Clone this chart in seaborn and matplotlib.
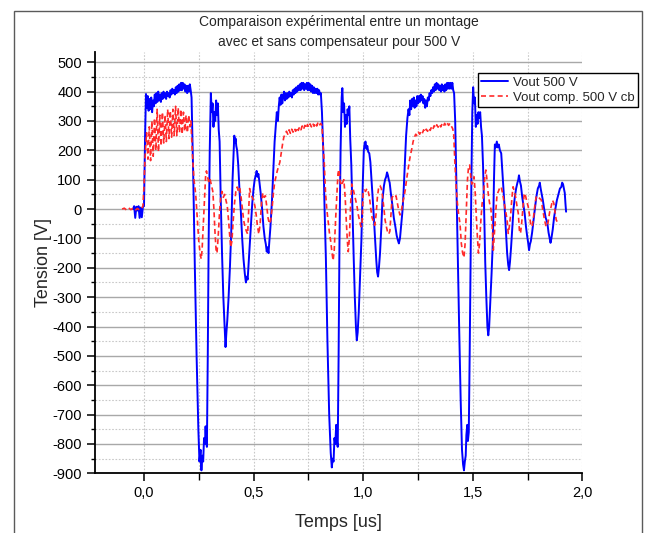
import matplotlib
matplotlib.use("Agg")
import matplotlib.pyplot as plt
from matplotlib.ticker import MultipleLocator, FuncFormatter
from matplotlib.patches import Rectangle
import seaborn as sns
import pandas as pd

# ---------------- data ----------------
title_text = "Comparaison expérimental entre un montage\navec et sans compensateur pour 500 V"
x_label = "Temps [us]"
y_label = "Tension [V]"
label_vout = "Vout 500 V"
label_comp = "Vout comp. 500 V cb"

t_vout = [-0.05, -0.045, -0.04, -0.035, -0.03, -0.025, -0.02, -0.015, -0.01, -0.005, 0.0,
          0.005, 0.009, 0.013, 0.017, 0.021, 0.025, 0.029, 0.033, 0.037, 0.041, 0.045, 0.049,
          0.053, 0.057, 0.061, 0.065, 0.069, 0.073, 0.077, 0.081, 0.085, 0.089, 0.093, 0.097,
          0.101, 0.105, 0.109, 0.113, 0.117, 0.121, 0.125, 0.129, 0.133, 0.137, 0.141, 0.145,
          0.149, 0.153, 0.157, 0.161, 0.165, 0.169, 0.173, 0.177, 0.181, 0.185, 0.189, 0.193,
          0.197, 0.201, 0.205, 0.209, 0.213,
          0.217, 0.225, 0.232, 0.24, 0.248, 0.253, 0.258, 0.262, 0.266, 0.27, 0.274, 0.278,
          0.281, 0.284, 0.287, 0.291, 0.295, 0.3, 0.305, 0.309, 0.313, 0.317, 0.321, 0.325,
          0.329, 0.333, 0.337, 0.341, 0.345, 0.35, 0.356, 0.362, 0.368, 0.372, 0.376, 0.38,
          0.386, 0.392, 0.398, 0.404, 0.409, 0.412, 0.415, 0.418, 0.421, 0.425, 0.43, 0.436,
          0.442, 0.448, 0.454, 0.46, 0.465, 0.469, 0.473, 0.477, 0.482, 0.488, 0.494, 0.5,
          0.505, 0.51, 0.514, 0.518, 0.522, 0.527, 0.533, 0.539, 0.545, 0.551, 0.556, 0.56,
          0.564, 0.568, 0.572, 0.577, 0.584, 0.59, 0.596, 0.601, 0.606, 0.611, 0.615, 0.619,
          0.623, 0.627, 0.631, 0.635, 0.639, 0.643, 0.647, 0.651, 0.655, 0.659, 0.663, 0.667,
          0.671, 0.675, 0.679, 0.683, 0.687, 0.691, 0.695, 0.699, 0.703, 0.707, 0.711, 0.715,
          0.719, 0.723, 0.727, 0.731, 0.735, 0.739, 0.743, 0.747, 0.751, 0.755, 0.759, 0.763,
          0.767, 0.771, 0.775, 0.779, 0.783, 0.787, 0.791, 0.795, 0.799, 0.803, 0.807,
          0.812, 0.818, 0.824, 0.83, 0.837, 0.845, 0.852, 0.857, 0.861, 0.865, 0.869, 0.873,
          0.877, 0.88, 0.884, 0.888, 0.892, 0.897, 0.902, 0.905, 0.909, 0.913, 0.917, 0.921,
          0.925, 0.929, 0.933, 0.937, 0.941, 0.946, 0.951, 0.957, 0.962, 0.967, 0.971, 0.975,
          0.98, 0.986, 0.992, 0.998, 1.003, 1.007, 1.011, 1.015, 1.019, 1.023, 1.028, 1.033,
          1.04, 1.047, 1.054, 1.06, 1.064, 1.068, 1.072, 1.077, 1.083, 1.088, 1.095, 1.1,
          1.105, 1.109, 1.113, 1.117, 1.121, 1.127, 1.134, 1.14, 1.147, 1.153, 1.158, 1.163,
          1.168, 1.173, 1.179, 1.184, 1.19, 1.196, 1.202, 1.207, 1.211, 1.215, 1.219, 1.223,
          1.227, 1.231, 1.235, 1.239, 1.243, 1.247, 1.251, 1.255, 1.259, 1.263, 1.267, 1.271,
          1.275, 1.279, 1.283, 1.287, 1.291, 1.295, 1.299, 1.303, 1.307, 1.311, 1.315, 1.319,
          1.323, 1.327, 1.331, 1.335, 1.339, 1.343, 1.347, 1.351, 1.355, 1.359, 1.363, 1.367,
          1.371, 1.375, 1.379, 1.383, 1.387, 1.391, 1.395, 1.399, 1.403, 1.407, 1.411, 1.415,
          1.42, 1.426, 1.432, 1.438, 1.445, 1.451, 1.456, 1.46, 1.464, 1.468, 1.471, 1.475,
          1.478, 1.482, 1.486, 1.49, 1.494, 1.498, 1.502, 1.506, 1.51, 1.514, 1.518, 1.522,
          1.526, 1.53, 1.534, 1.538, 1.542, 1.547, 1.552, 1.557, 1.562, 1.567, 1.571, 1.575,
          1.58, 1.586, 1.592, 1.597, 1.601, 1.605, 1.61, 1.614, 1.619, 1.624, 1.63, 1.636,
          1.641, 1.646, 1.652, 1.657, 1.662, 1.666, 1.67, 1.675, 1.68, 1.686, 1.692, 1.698,
          1.704, 1.708, 1.711, 1.715, 1.72, 1.726, 1.732, 1.737, 1.743, 1.748, 1.753, 1.757,
          1.761, 1.765, 1.771, 1.777, 1.783, 1.79, 1.797, 1.803, 1.806, 1.81, 1.815, 1.82,
          1.826, 1.833, 1.84, 1.846, 1.851, 1.855, 1.859, 1.865, 1.871, 1.877, 1.884, 1.891,
          1.898, 1.904, 1.908, 1.912, 1.916, 1.92, 1.923, 1.926]
v_vout = [0, 10, -30, 8, -5, 10, -30, 5, -28, 8, 10,
          250, 392, 345, 385, 335, 375, 340, 380, 330, 370, 350, 390,
          360, 395, 365, 400, 370, 390, 365, 395, 375, 400, 380, 395,
          375, 400, 385, 395, 380, 405, 390, 410, 395, 405, 390, 415,
          395, 420, 400, 425, 405, 430, 405, 430, 410, 425, 400, 420,
          395, 420, 400, 425, 405,
          380, 100, -200, -500, -750, -860, -820, -890, -840, -860, -780, -800,
          -740, -790, -810, -500, -106, 200, 395, 330, 360, 280, 330, 300,
          370, 320, 360, 270, 230, 40, -150, -300, -400, -470, -420, -380,
          -300, -200, -80, 100, 200, 250, 225, 240, 215, 200, 150, 60,
          -10, -100, -170, -220, -250, -230, -240, -190, -130, -50, 20, 70,
          100, 115, 130, 110, 120, 90, 50, 0, -60, -100, -120, -145,
          -130, -150, -110, -60, 30, 130, 230, 280, 330, 300, 350, 380,
          355, 390, 360, 385, 400, 370, 395, 375, 395, 380, 400, 385,
          395, 380, 405, 390, 410, 395, 415, 400, 420, 405, 425, 405,
          430, 410, 430, 405, 425, 410, 430, 405, 430, 405, 425, 400,
          420, 395, 415, 395, 410, 395, 410, 390, 405, 390, 395,
          330, 200, 0, -170, -450, -700, -830, -880, -850, -860, -780, -800,
          -735, -790, -810, -500, -106, 200, 380, 412, 330, 360, 280, 320,
          290, 340, 320, 350, 240, 150, 0, -170, -300, -400, -447, -420,
          -350, -230, -106, 80, 200, 225, 230, 205, 215, 195, 190, 160,
          80, -5, -100, -175, -215, -230, -200, -150, -60, 30, 80, 100,
          110, 125, 115, 100, 90, 50, 10, -30, -60, -90, -105, -117,
          -100, -60, -10, 50, 150, 250, 310, 340, 320, 370, 340, 375,
          350, 380, 345, 370, 350, 385, 360, 385, 365, 390, 370, 385,
          360, 375, 345, 370, 350, 380, 370, 395, 385, 405, 395, 415,
          400, 425, 405, 430, 410, 425, 405, 420, 400, 425, 405, 420,
          400, 425, 405, 430, 410, 430, 410, 430, 410, 430, 405, 395,
          300, 60, -170, -400, -650, -820, -870, -890, -860, -840, -770, -735,
          -790, -760, -500, -200, 100, 330, 415, 360, 380, 280, 320, 290,
          330, 310, 330, 280, 250, 150, 0, -180, -300, -400, -430, -400,
          -320, -220, -106, 100, 220, 210, 230, 210, 220, 200, 190, 120,
          60, 0, -80, -150, -190, -208, -180, -130, -70, 0, 40, 70,
          90, 100, 115, 95, 80, 40, 10, -15, -60, -90, -115, -140,
          -120, -110, -80, -40, -3, 40, 70, 80, 90, 70, 50, 30,
          0, -30, -45, -80, -100, -115, -100, -70, -30, 0, 30, 50,
          70, 75, 90, 85, 70, 55, 20, -9]

t_comp = [-0.1, -0.09, -0.08, -0.07, -0.06, -0.05, -0.04, -0.03, -0.02, -0.01, -0.005,
          0.0, 0.004, 0.008, 0.012, 0.018, 0.024, 0.03, 0.036, 0.042, 0.048, 0.054, 0.06,
          0.066, 0.072, 0.078, 0.084, 0.09, 0.096, 0.102, 0.108, 0.114, 0.12, 0.126, 0.132,
          0.138, 0.144, 0.15, 0.156, 0.162, 0.168, 0.174, 0.18, 0.186, 0.192, 0.198, 0.204,
          0.21, 0.214,
          0.22, 0.228, 0.236, 0.244, 0.25, 0.256, 0.261, 0.265, 0.27, 0.276, 0.281, 0.285,
          0.29, 0.296, 0.302, 0.308, 0.314, 0.319, 0.324, 0.329, 0.333, 0.338, 0.344, 0.35,
          0.356, 0.362, 0.368, 0.374, 0.38, 0.386, 0.391, 0.396, 0.401, 0.407, 0.413, 0.419,
          0.425, 0.431, 0.437, 0.443, 0.449, 0.455, 0.461, 0.467, 0.473, 0.478, 0.482, 0.488,
          0.494, 0.5, 0.506, 0.512, 0.518, 0.524, 0.53, 0.536, 0.542, 0.548, 0.554, 0.56,
          0.566, 0.572, 0.578, 0.584, 0.59, 0.596, 0.602, 0.608, 0.614, 0.62, 0.626, 0.632,
          0.638, 0.644, 0.65, 0.656, 0.662, 0.668, 0.674, 0.68, 0.686, 0.692, 0.698, 0.704,
          0.71, 0.716, 0.722, 0.728, 0.734, 0.74, 0.746, 0.752, 0.758, 0.764, 0.77, 0.776,
          0.782, 0.788, 0.794, 0.8, 0.806, 0.812,
          0.816, 0.822, 0.828, 0.834, 0.84, 0.846, 0.852, 0.858, 0.863, 0.868, 0.874, 0.88,
          0.885, 0.889, 0.894, 0.9, 0.906, 0.912, 0.918, 0.923, 0.928, 0.932, 0.937, 0.943,
          0.948, 0.954, 0.96, 0.966, 0.972, 0.978, 0.984, 0.99, 0.995, 1.0, 1.005, 1.011,
          1.017, 1.023, 1.029, 1.035, 1.041, 1.047, 1.053, 1.059, 1.065, 1.071, 1.077, 1.083,
          1.089, 1.095, 1.1, 1.106, 1.112, 1.117, 1.122, 1.127, 1.132, 1.138, 1.144, 1.15,
          1.156, 1.162, 1.168, 1.174, 1.18, 1.186, 1.192, 1.198, 1.204, 1.21, 1.216, 1.222,
          1.228, 1.234, 1.24, 1.246, 1.252, 1.258, 1.264, 1.27, 1.276, 1.282, 1.288, 1.294,
          1.3, 1.306, 1.312, 1.318, 1.324, 1.33, 1.336, 1.342, 1.348, 1.354, 1.36, 1.366,
          1.372, 1.378, 1.384, 1.39, 1.396, 1.402, 1.408, 1.413,
          1.418, 1.424, 1.43, 1.436, 1.442, 1.448, 1.454, 1.46, 1.465, 1.47, 1.476, 1.481,
          1.486, 1.491, 1.496, 1.501, 1.506, 1.511, 1.516, 1.521, 1.526, 1.531, 1.537, 1.543,
          1.549, 1.555, 1.56, 1.565, 1.571, 1.577, 1.583, 1.589, 1.594, 1.599, 1.605, 1.611,
          1.617, 1.623, 1.63, 1.637, 1.644, 1.651, 1.657, 1.662, 1.667, 1.673, 1.679, 1.684,
          1.69, 1.696, 1.702, 1.708, 1.713, 1.718, 1.723, 1.729, 1.735, 1.741, 1.747, 1.753,
          1.759, 1.765, 1.771, 1.777, 1.783, 1.789, 1.795, 1.801, 1.807, 1.813, 1.819, 1.826,
          1.833, 1.839, 1.845, 1.851, 1.858, 1.864, 1.87, 1.876, 1.881, 1.886]
v_comp = [0, 3, -3, 4, -2, 3, -4, 2, -3, 3, 10,
          80, 160, 220, 260, 170, 280, 165, 300, 180, 310, 200, 340,
          195, 320, 215, 330, 225, 320, 230, 340, 240, 335, 245, 340,
          250, 350, 250, 345, 260, 340, 255, 330, 265, 320, 260, 320,
          280, 300,
          200, 100, 50, -40, -110, -150, -170, -140, -60, 40, 110, 130,
          110, 90, 100, 80, 60, 0, -80, -140, -150, -100, -20, 40,
          60, 40, 50, 30, 10, -40, -90, -130, -110, -40, 20, 60,
          75, 60, 70, 40, 0, -40, -60, -75, -85, 0, 70, 50,
          40, 30, 10, -20, -60, -85, -50, 20, 55, 40, 45, 10,
          -30, -50, -40, 0, 50, 90, 110, 130, 145, 160, 190, 220,
          245, 255, 265, 255, 270, 258, 272, 262, 275, 265, 278, 268,
          280, 270, 283, 272, 285, 275, 288, 278, 290, 280, 292, 282,
          293, 283, 295, 285, 292, 285,
          230, 167, 60, 0, -40, -80, -110, -150, -175, -140, -40, 50,
          120, 135, 100, 80, 90, 100, 40, -40, -110, -145, -100, 20,
          85, 70, 50, 30, 10, -20, -40, -60, -50, 60, 65, 60,
          70, 60, 40, 0, -30, -40, -55, -20, 40, 75, 80, 70,
          40, 0, -37, -60, -80, -85, -75, -20, 40, 45, 40, 45,
          20, -3, -20, -10, 20, 40, 65, 100, 130, 160, 185, 205,
          230, 245, 255, 250, 262, 255, 265, 258, 270, 262, 272, 265,
          276, 268, 280, 272, 284, 276, 287, 279, 289, 280, 290, 282,
          292, 284, 293, 285, 292, 283, 275, 260,
          167, 80, 20, -20, -50, -117, -150, -165, -120, -20, 100, 145,
          150, 110, 85, 95, 110, 60, -20, -90, -150, -120, -40, 20,
          45, 110, 133, 100, 50, 20, 0, -60, -140, -80, -10, 50,
          60, 72, 76, 50, 20, -10, -37, -83, -60, -20, 40, 76,
          60, 40, 10, -15, -72, -83, -50, 0, 54, 45, 25, 9,
          -20, -55, -60, -30, 9, 40, 45, 40, 35, 31, 0, -30,
          -55, -60, -40, -10, 9, 30, 20, -10, -37, -44]

x_ticks_major = [0.0, 0.5, 1.0, 1.5, 2.0]
y_ticks_major = list(range(-900, 501, 100))

# ---------------- style ----------------
sns.set_style("white")
plt.rcParams["font.family"] = ["Liberation Sans", "DejaVu Sans"]
plt.rcParams["axes.unicode_minus"] = False

W, H = 647, 533
fig = plt.figure(figsize=(W / 100, H / 100), dpi=100)
ax_l, ax_r, ax_t, ax_b = 95, 582.3, 52, 473.3
ax = fig.add_axes([ax_l / W, 1 - ax_b / H, (ax_r - ax_l) / W, (ax_b - ax_t) / H])

df_v = pd.DataFrame({"t": t_vout, "v": v_vout})
df_c = pd.DataFrame({"t": t_comp, "v": v_comp})

sns.lineplot(data=df_v, x="t", y="v", ax=ax, sort=False, estimator=None,
             color="#0000ff", linewidth=1.4, label=label_vout, zorder=3)
sns.lineplot(data=df_c, x="t", y="v", ax=ax, sort=False, estimator=None,
             color="#ff2a2a", linewidth=1.2, label=label_comp, zorder=4,
             linestyle=(0, (3, 2)))

ax.set_xlim(-0.2236, 2.0)
ax.set_ylim(-900, 535)
ax.set_xticks(x_ticks_major)
ax.xaxis.set_minor_locator(MultipleLocator(0.25))
ax.set_yticks(y_ticks_major)
ax.yaxis.set_minor_locator(MultipleLocator(50))
ax.xaxis.set_major_formatter(FuncFormatter(lambda v, p: f"{v:.1f}".replace(".", ",")))
ax.yaxis.set_major_formatter(FuncFormatter(lambda v, p: f"{int(round(v))}"))

ax.grid(which="major", axis="y", color="#a8a8a8", linewidth=1.0, linestyle="-")
ax.grid(which="minor", axis="y", color="#c8c8c8", linewidth=0.8, linestyle=(0, (1.5, 1.5)))
ax.grid(which="both", axis="x", color="#c8c8c8", linewidth=0.8, linestyle=(0, (1.5, 1.5)))
ax.set_axisbelow(True)

for s in ["top", "right"]:
    ax.spines[s].set_visible(False)
for s in ["left", "bottom"]:
    ax.spines[s].set_color("black")
    ax.spines[s].set_linewidth(1.3)

ax.tick_params(axis="both", which="major", direction="out", length=6, width=1.1,
               color="black", labelsize=10.5, labelcolor="black")
ax.tick_params(axis="y", which="minor", direction="out", length=3, width=1.0, color="black")
ax.tick_params(axis="x", which="minor", direction="out", length=5, width=1.0, color="black")
ax.tick_params(axis="both", which="both", left=True, bottom=True)

ax.set_xlabel(x_label, fontsize=13, labelpad=10)
ax.set_ylabel(y_label, fontsize=13, labelpad=0)
ax.set_title(title_text, fontsize=10, linespacing=1.6, pad=4)

leg = ax.legend(loc="upper left", bbox_to_anchor=(478 / W, 1 - 73 / H),
                bbox_transform=fig.transFigure, fontsize=9.5, frameon=True,
                fancybox=False, framealpha=1, edgecolor="black", borderaxespad=0,
                handlelength=2.0, handletextpad=0.4, labelspacing=0.25, borderpad=0.25)
leg.get_frame().set_linewidth(1.0)

fig.patches.append(Rectangle((14 / W, -0.05), (642 - 14) / W, (H - 11) / H + 0.05,
                             transform=fig.transFigure, fill=False,
                             edgecolor="#5a5a5a", linewidth=1.0, zorder=0))

fig.savefig("out.png", dpi=100)
